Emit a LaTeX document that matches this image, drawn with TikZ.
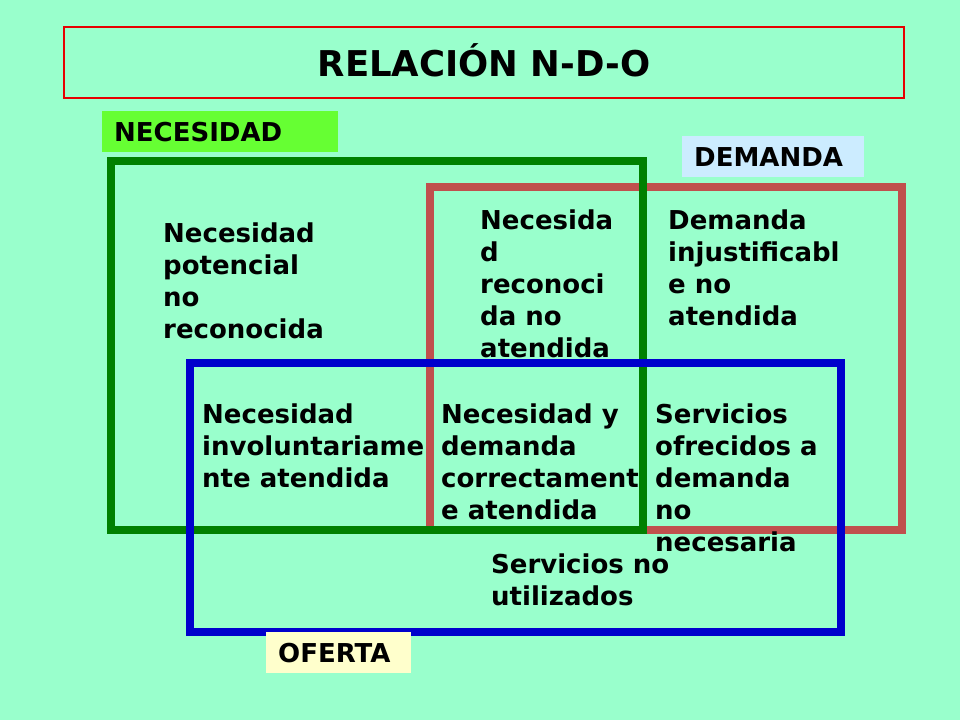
\documentclass[tikz,border=0pt]{standalone}
\usepackage{fontspec}
\setmainfont{DejaVu Sans}
\definecolor{bgmint}{RGB}{153,255,204}
\definecolor{titlered}{RGB}{230,0,0}
\definecolor{necgreen}{RGB}{102,255,51}
\definecolor{demblue}{RGB}{204,236,255}
\definecolor{ofyellow}{RGB}{255,255,204}
\definecolor{rgreen}{RGB}{0,128,0}
\definecolor{rred}{RGB}{192,80,77}
\definecolor{rblue}{RGB}{0,0,204}
\newcommand{\firstline}{\rule{0pt}{21pt}}
\begin{document}
\begin{tikzpicture}[x=1pt,y=-1pt,
  bodytext/.style={anchor=north west,inner sep=0pt,align=left,
    font=\fontsize{26}{32}\selectfont\bfseries},
  labelbox/.style={anchor=north west,inner xsep=12pt,inner ysep=0pt,
    text height=19pt,text depth=0pt,minimum height=41pt,
    font=\fontsize{26}{32}\selectfont\bfseries},
  setrect/.style={line width=8pt}
]
\fill[bgmint] (0,0) rectangle (960,720);
\useasboundingbox (0,0) rectangle (960,720);
% title
\draw[titlered,line width=2pt] (64,27) rectangle (904,98);
\node[inner sep=0pt,text height=25pt,text depth=0pt,
  font=\fontsize{35.5}{40}\selectfont\bfseries] (title) at (484,64) {RELACIÓN N-D-O};
% sets
\draw[setrect,rred] (430,187) rectangle (902,530);
\draw[setrect,rgreen] (110.5,161) rectangle (642.5,530);
\draw[setrect,rblue] (190,363) rectangle (841,632);
% labels
\node[labelbox,fill=necgreen,minimum width=236pt,text width=212pt] (nec) at (102,111) {NECESIDAD};
\node[labelbox,fill=demblue,minimum width=182pt,text width=158pt] (dem) at (682,136) {DEMANDA};
\node[labelbox,fill=ofyellow,minimum width=145pt,text width=121pt] (ofe) at (266,632) {OFERTA};
% texts (north = first baseline - 21)
\node[bodytext] (t1) at (163,221) {\firstline Necesidad\\potencial\\no\\reconocida};
\node[bodytext] (t2) at (480,208) {\firstline Necesida\\d\\reconoci\\da no\\atendida};
\node[bodytext] (t3) at (668,208) {\firstline Demanda\\injustificabl\\e no\\atendida};
\node[bodytext] (t4) at (202,402) {\firstline Necesidad\\involuntariame\\nte atendida};
\node[bodytext] (t5) at (441,402) {\firstline Necesidad y\\demanda\\correctament\\e atendida};
\node[bodytext] (t6) at (655,402) {\firstline Servicios\\ofrecidos a\\demanda\\no\\necesaria};
\node[bodytext] (t7) at (491,552) {\firstline Servicios no\\utilizados};
\end{tikzpicture}
\end{document}
